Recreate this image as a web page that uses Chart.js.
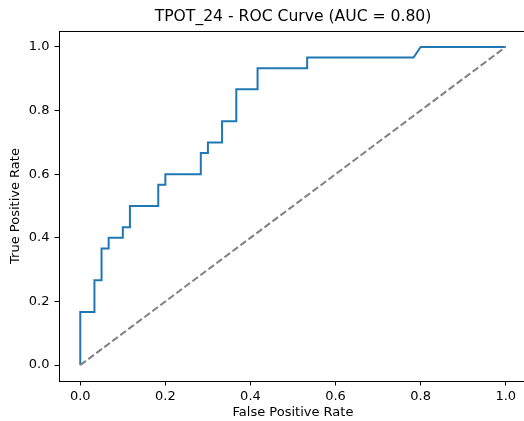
<!DOCTYPE html>
<html>
<head>
<meta charset="utf-8">
<script src="https://cdn.jsdelivr.net/npm/chart.js@4"></script>
<style>
  html, body { margin: 0; padding: 0; background: #fff; overflow: hidden; }
  #wrap { width: 524px; height: 421px; overflow: hidden; }
</style>
</head>
<body>
<div id="wrap"><canvas id="roc" width="540" height="421"></canvas></div>
<script>
// ROC curve (60 negatives, 30 positives)
const fpr = [0, 0, 0.0333, 0.0333, 0.05, 0.05, 0.0667, 0.0667, 0.1, 0.1, 0.1167, 0.1167,
  0.1833, 0.1833, 0.2, 0.2, 0.2833, 0.2833, 0.3, 0.3, 0.3333, 0.3333, 0.3667, 0.3667,
  0.4167, 0.4167, 0.5333, 0.5333, 0.7833, 0.8, 1];
const tpr = [0, 0.1667, 0.1667, 0.2667, 0.2667, 0.3667, 0.3667, 0.4, 0.4, 0.4333, 0.4333, 0.5,
  0.5, 0.5667, 0.5667, 0.6, 0.6, 0.6667, 0.6667, 0.7, 0.7, 0.7667, 0.7667, 0.8667,
  0.8667, 0.9333, 0.9333, 0.9667, 0.9667, 1, 1];
const chanceX = [0, 1];
const chanceY = [0, 1];
const tickValues = [0, 0.2, 0.4, 0.6, 0.8, 1.0];

const font = 'DejaVu Sans';

// draws the top/right/left/bottom frame around the plot
const frame = {
  id: 'frame',
  afterDraw(chart) {
    const { ctx, chartArea: a } = chart;
    ctx.save();
    ctx.strokeStyle = '#000';
    ctx.lineWidth = 1;
    ctx.strokeRect(Math.round(a.left) + 0.5, Math.round(a.top) + 0.5,
      Math.round(a.right - a.left), Math.round(a.bottom - a.top));
    ctx.restore();
  }
};

const fixedTicks = scale => { scale.ticks = tickValues.map(v => ({ value: v })); };

new Chart(document.getElementById('roc'), {
  type: 'line',
  data: {
    datasets: [
      {
        label: 'Chance',
        data: chanceX.map((x, i) => ({ x: x, y: chanceY[i] })),
        borderColor: '#808080',
        borderWidth: 2,
        borderDash: [7, 3],
        pointRadius: 0,
        tension: 0,
      },
      {
        label: 'ROC',
        data: fpr.map((x, i) => ({ x: x, y: tpr[i] })),
        borderColor: '#1f77b4',
        borderWidth: 2,
        pointRadius: 0,
        tension: 0,
      },
    ],
  },
  options: {
    responsive: false,
    animation: false,
    devicePixelRatio: 1,
    layout: { padding: { left: 0, right: 13, top: 0, bottom: 0 } },
    plugins: {
      legend: { display: false },
      tooltip: { enabled: false },
      title: {
        display: true,
        fullSize: false,
        text: 'TPOT_24 - ROC Curve (AUC = 0.80)',
        color: '#000',
        font: { family: font, size: 15.6, weight: 'normal', lineHeight: 1.2 },
        padding: { top: 8, bottom: 4.3 },
      },
    },
    scales: {
      x: {
        type: 'linear',
        min: -0.05,
        max: 1.05,
        afterBuildTicks: fixedTicks,
        afterFit: scale => { scale.height = 40; },
        grid: { display: true, drawOnChartArea: false, drawTicks: true, tickLength: 4.5, tickColor: '#000', tickWidth: 1 },
        border: { display: false },
        ticks: {
          color: '#000',
          padding: 3,
          maxRotation: 0,
          font: { family: font, size: 13 },
          callback: v => v.toFixed(1),
        },
        title: {
          display: true,
          text: 'False Positive Rate',
          color: '#000',
          font: { family: font, size: 13, lineHeight: 1.2 },
          padding: { top: 0, bottom: 1 },
        },
      },
      y: {
        type: 'linear',
        min: -0.05,
        max: 1.05,
        afterBuildTicks: fixedTicks,
        afterFit: scale => { scale.width = 59; },
        grid: { display: true, drawOnChartArea: false, drawTicks: true, tickLength: 4.5, tickColor: '#000', tickWidth: 1 },
        border: { display: false },
        ticks: {
          color: '#000',
          padding: 5,
          font: { family: font, size: 13 },
          callback: v => v.toFixed(1),
        },
        title: {
          display: true,
          text: 'True Positive Rate',
          color: '#000',
          font: { family: font, size: 13, lineHeight: 1.2 },
          padding: { top: 8, bottom: 0 },
        },
      },
    },
  },
  plugins: [frame],
});
</script>
</body>
</html>
